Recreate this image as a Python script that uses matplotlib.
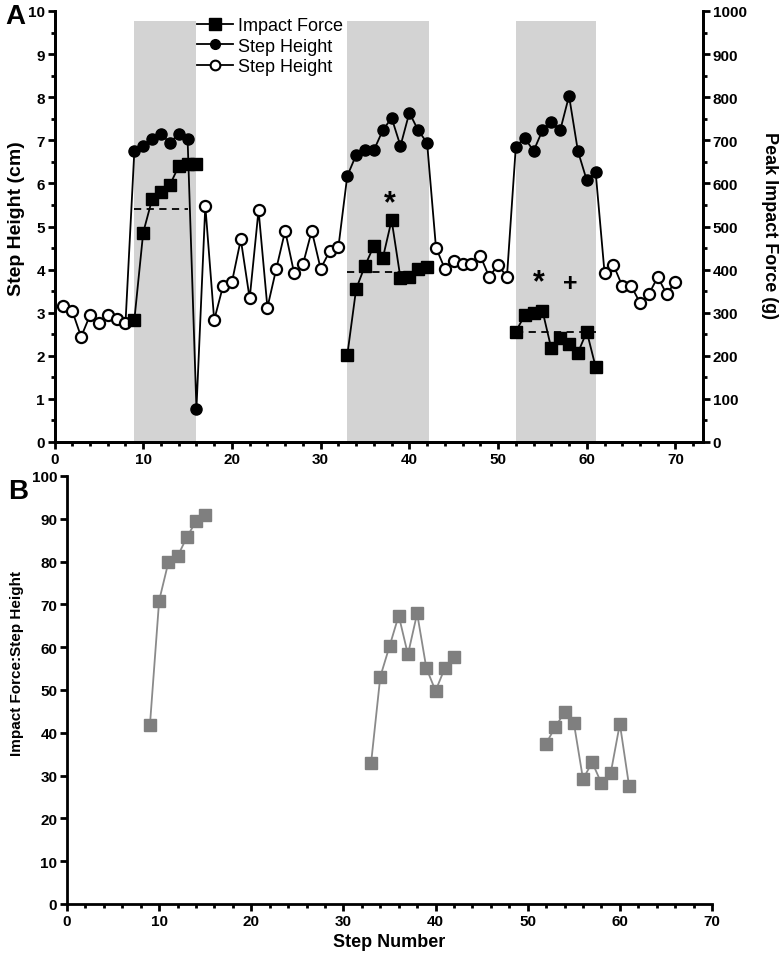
import matplotlib
matplotlib.use("Agg")
import matplotlib.pyplot as plt
from matplotlib.lines import Line2D
from matplotlib.ticker import MultipleLocator
import numpy as np

plt.rcParams['font.family'] = ['Liberation Sans', 'DejaVu Sans']

# ---------------- data ----------------
steps = list(range(1, 71))
step_height = [3.15, 3.04, 2.44, 2.94, 2.75, 2.94, 2.85, 2.75,
               6.75, 6.87, 7.04, 7.15, 6.94, 7.15, 7.04, 0.77,
               5.48, 2.83, 3.62, 3.71, 4.70, 3.33, 5.38, 3.12, 4.02, 4.90,
               3.93, 4.12, 4.90, 4.02, 4.42, 4.52,
               6.17, 6.66, 6.77, 6.77, 7.23, 7.52, 6.87, 7.64, 7.23, 6.94,
               4.51, 4.02, 4.21, 4.12, 4.12, 4.32, 3.83, 4.11, 3.83,
               6.85, 7.06, 6.75, 7.23, 7.43, 7.23, 8.03, 6.75, 6.07, 6.26,
               3.93, 4.11, 3.62, 3.62, 3.23, 3.43, 3.83, 3.43, 3.72]

block_starts = [9, 33, 52]
block_ends = [16, 42.2, 61]

force_steps = [list(range(9, 17)), list(range(33, 43)), list(range(52, 62))]
impact_force = [[283, 486, 563, 580, 596, 640, 644, 645],
                [201, 355, 409, 455, 426, 515, 380, 382, 401, 405],
                [256, 294, 300, 305, 217, 242, 227, 207, 256, 174]]

mean_level = [540, 394, 256]
mean_from = [9, 33, 52]
mean_to = [15, 42, 61]

ratio_steps = [list(range(9, 16)), list(range(33, 43)), list(range(52, 62))]
ratio = [[41.8, 70.9, 79.8, 81.2, 85.7, 89.4, 91.0],
         [32.9, 53.1, 60.2, 67.4, 58.3, 67.9, 55.1, 49.8, 55.1, 57.6],
         [37.5, 41.4, 44.8, 42.4, 29.2, 33.1, 28.2, 30.5, 42.1, 27.6]]

marks_x = [37.8, 54.6, 58.1]
marks_y = [555, 370, 370]
marks_text = ['*', '*', '+']

# ---------------- figure ----------------
W, H = 784, 962
fig = plt.figure(figsize=(W / 100, H / 100), dpi=100)

def frac(x0, y0, x1, y1):
    return [x0 / W, 1 - y1 / H, (x1 - x0) / W, (y1 - y0) / H]

spine_w = 2.0
tick_kw = dict(direction='out', width=2.0, length=5, labelsize=11)
minor_kw = dict(direction='out', width=2.0, length=3)

# ---------- Panel A ----------
ax = fig.add_axes(frac(54.5, 12, 703, 443))
ax2 = ax.twinx()

filled = np.zeros(len(steps), dtype=bool)
for s, e in zip(block_starts, block_ends):
    ax.axvspan(s, e, ymin=0, ymax=0.977, color='#d3d3d3', lw=0, zorder=0)
    for i, st in enumerate(steps):
        if s <= st <= e:
            filled[i] = True

sx = np.array(steps)
sy = np.array(step_height)
ax.plot(sx, sy, color='black', lw=1.3, zorder=2)
ax.plot(sx[~filled], sy[~filled], 'o', ms=8, mfc='white', mec='black', mew=1.6, zorder=3, ls='none')
ax.plot(sx[filled], sy[filled], 'o', ms=8, mfc='black', mec='black', zorder=3, ls='none')

for fs, fv in zip(force_steps, impact_force):
    ax2.plot(fs, fv, 's-', color='black', ms=8, lw=1.3, zorder=3)
for lv, x0, x1 in zip(mean_level, mean_from, mean_to):
    ax2.plot([x0, x1], [lv, lv], ls=(0, (4, 3)), color='black', lw=1.3, zorder=2)
for mx, my, mt in zip(marks_x, marks_y, marks_text):
    ax2.text(mx, my, mt, ha='center', va='center', fontsize=22 if mt == '*' else 18,
             fontweight='bold', zorder=4)

ax.set_xlim(0, 73.1)
ax.set_ylim(0, 10)
ax2.set_ylim(0, 1000)
ax.xaxis.set_major_locator(MultipleLocator(10))
ax.xaxis.set_minor_locator(MultipleLocator(2))
ax.yaxis.set_major_locator(MultipleLocator(1))
ax.yaxis.set_minor_locator(MultipleLocator(0.5))
ax2.yaxis.set_major_locator(MultipleLocator(100))
ax2.yaxis.set_minor_locator(MultipleLocator(50))

for a in (ax, ax2):
    a.spines['top'].set_visible(False)
    for sp in ('left', 'right', 'bottom'):
        a.spines[sp].set_linewidth(spine_w)
    a.tick_params(which='major', **tick_kw)
    a.tick_params(which='minor', **minor_kw)
ax.set_zorder(ax2.get_zorder() - 1)
ax2.patch.set_visible(False)
ax.tick_params(axis='both', pad=2)
ax2.tick_params(axis='y', pad=2)
for lab in ax.get_xticklabels() + ax.get_yticklabels() + ax2.get_yticklabels():
    lab.set_fontweight('bold')

ax.set_ylabel('Step Height (cm)', fontsize=14, fontweight='bold', va='center')
ax.yaxis.set_label_coords((17 - 54.5) / 648.5, (443 - 218.5) / 431)
ax2.set_ylabel('Peak Impact Force (g)', fontsize=13, fontweight='bold', rotation=270, va='center')
ax2.yaxis.set_label_coords((770 - 54.5) / 648.5, (443 - 226) / 431)

handles = [Line2D([], [], color='black', marker='s', ms=8, lw=1.3),
           Line2D([], [], color='black', marker='o', ms=7, lw=1.3),
           Line2D([], [], color='black', marker='o', ms=7, lw=1.3, mfc='white', mew=1.5)]
fig.legend(handles, ['Impact Force', 'Step Height', 'Step Height'], loc='upper left',
           bbox_to_anchor=(197 / W, 1 - 18 / H), frameon=False, fontsize=13,
           handlelength=2.0, handletextpad=0.25, labelspacing=0.2, borderaxespad=0, borderpad=0)

# ---------- Panel B ----------
bx = fig.add_axes(frac(67, 477, 712, 905))
for rs, rv in zip(ratio_steps, ratio):
    bx.plot(rs, rv, '-', color='#8a8a8a', lw=1.3, zorder=2)
    bx.plot(rs, rv, 's', color='#7f7f7f', ms=8, zorder=3, ls='none')
bx.set_xlim(0, 70)
bx.set_ylim(0, 100)
bx.xaxis.set_major_locator(MultipleLocator(10))
bx.xaxis.set_minor_locator(MultipleLocator(2))
bx.yaxis.set_major_locator(MultipleLocator(10))
bx.spines['top'].set_visible(False)
bx.spines['right'].set_visible(False)
for sp in ('left', 'bottom'):
    bx.spines[sp].set_linewidth(spine_w)
bx.tick_params(which='major', **tick_kw)
bx.tick_params(which='minor', **minor_kw)
bx.tick_params(axis='both', pad=2)
for lab in bx.get_xticklabels() + bx.get_yticklabels():
    lab.set_fontweight('bold')
bx.set_xlabel('Step Number', fontsize=13, fontweight='bold', va='center')
bx.xaxis.set_label_coords(0.5, (905 - 943) / 428)
bx.set_ylabel('Impact Force:Step Height', fontsize=11, fontweight='bold', va='center')
bx.yaxis.set_label_coords((17 - 67) / 645, (905 - 664) / 428)

fig.text(5 / W, 1 - 17 / H, 'A', fontsize=20, fontweight='bold', va='center', ha='left')
fig.text(8 / W, 1 - 492 / H, 'B', fontsize=20, fontweight='bold', va='center', ha='left')

fig.savefig('out.png', dpi=100)
